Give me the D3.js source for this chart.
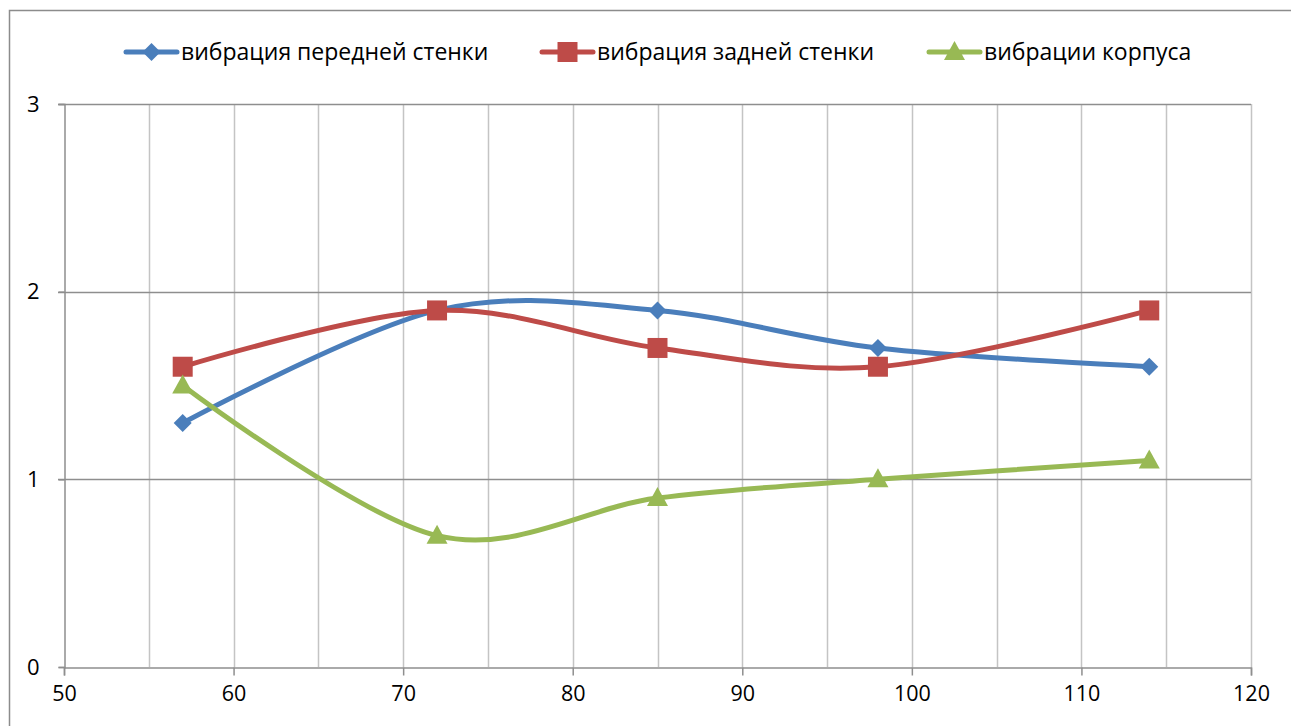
<!DOCTYPE html>
<html>
<head>
<meta charset="utf-8">
<script src="https://cdn.jsdelivr.net/npm/d3@7"></script>
<style>
  html, body { margin: 0; padding: 0; background: #fff; }
  svg { display: block; font-family: "Open Sans", "Noto Sans", sans-serif; }
</style>
</head>
<body>
<svg id="chart" width="1291" height="726"></svg>
<script>
// Frequencies (x) and vibration levels for each measured surface
const xValues = [57, 72, 85, 98, 114];
const frontWall = [1.3, 1.9, 1.9, 1.7, 1.6];
const backWall = [1.6, 1.9, 1.7, 1.6, 1.9];
const body = [1.5, 0.7, 0.9, 1.0, 1.1];

const seriesNames = ["вибрация передней стенки", "вибрация задней стенки", "вибрации корпуса"];
const xTicks = [50, 60, 70, 80, 90, 100, 110, 120];
const xMinorGrid = [55, 65, 75, 85, 95, 105, 115];
const yTicks = [0, 1, 2, 3];

const series = [
  { name: seriesNames[0], values: frontWall, color: "#4A7EBB", marker: "diamond" },
  { name: seriesNames[1], values: backWall, color: "#BE4B48", marker: "square" },
  { name: seriesNames[2], values: body, color: "#98B954", marker: "triangle" }
];

const svg = d3.select("#chart");
const plot = { left: 64, right: 1251, top: 104, bottom: 667 };

const x = d3.scaleLinear().domain([50, 120]).range([plot.left, plot.right]);
const y = d3.scaleLinear().domain([0, 3]).range([plot.bottom, plot.top]);

// Outer chart frame (extends past the visible page on right and bottom)
svg.append("rect")
  .attr("x", 9.5).attr("y", 10.5)
  .attr("width", 1400).attr("height", 900)
  .attr("fill", "none").attr("stroke", "#8c8c8c").attr("stroke-width", 1.5);

// Vertical gridlines
const vGrid = xTicks.slice(1).concat(xMinorGrid);
svg.append("g").selectAll("line").data(vGrid).join("line")
  .attr("x1", d => Math.round(x(d)) + 0.5).attr("x2", d => Math.round(x(d)) + 0.5)
  .attr("y1", plot.top).attr("y2", plot.bottom)
  .attr("stroke", "#c4c4c4").attr("stroke-width", 1.5);

// Horizontal gridlines
svg.append("g").selectAll("line").data(yTicks.slice(1)).join("line")
  .attr("x1", plot.left - 6).attr("x2", plot.right)
  .attr("y1", d => Math.round(y(d)) + 0.5).attr("y2", d => Math.round(y(d)) + 0.5)
  .attr("stroke", "#8e8e8e").attr("stroke-width", 1.5);

// Y axis
const yAxis = svg.append("g")
  .attr("transform", `translate(${plot.left + 0.5},0)`)
  .call(d3.axisLeft(y).tickValues(yTicks).tickSize(6).tickPadding(19).tickFormat(d3.format("d")));
yAxis.select(".domain").attr("stroke", "#8e8e8e").attr("stroke-width", 1.5);
yAxis.selectAll(".tick line").attr("stroke", "#8e8e8e").attr("stroke-width", 1.5);
yAxis.selectAll(".tick text").attr("font-size", 22).attr("fill", "#000")
  .attr("font-family", "'Open Sans', sans-serif");

// X axis
const xAxis = svg.append("g")
  .attr("transform", `translate(0,${plot.bottom + 0.5})`)
  .call(d3.axisBottom(x).tickValues(xTicks).tickSize(8).tickPadding(10).tickFormat(d3.format("d")));
xAxis.select(".domain").attr("stroke", "#8e8e8e").attr("stroke-width", 1.5);
xAxis.selectAll(".tick line").attr("stroke", "#8e8e8e").attr("stroke-width", 1.5);
xAxis.selectAll(".tick text").attr("font-size", 21.5).attr("fill", "#000")
  .attr("font-family", "'Open Sans', sans-serif");

// Marker shapes
function markerPath(type) {
  if (type === "diamond") return "M0,-9L9,0L0,9L-9,0Z";
  if (type === "square") return "M-10,-10H10V10H-10Z";
  return "M0,-11L10.5,8H-10.5Z";
}

const line = d3.line()
  .x((d, i) => x(xValues[i]))
  .y(d => y(d))
  .curve(d3.curveCardinal.tension(0));

const seriesG = svg.append("g").selectAll("g").data(series).join("g");

seriesG.append("path")
  .attr("d", d => line(d.values))
  .attr("fill", "none")
  .attr("stroke", d => d.color)
  .attr("stroke-width", 5)
  .attr("stroke-linejoin", "round")
  .attr("stroke-linecap", "round");

seriesG.each(function (s) {
  d3.select(this).selectAll("path.mk").data(s.values).join("path")
    .attr("class", "mk")
    .attr("transform", (d, i) => `translate(${x(xValues[i])},${y(d)})`)
    .attr("d", markerPath(s.marker))
    .attr("fill", s.color);
});

// Legend
const legendItems = [
  { x: 124, s: series[0] },
  { x: 540, s: series[1] },
  { x: 927, s: series[2] }
];
const legendY = 52;
const lg = svg.append("g").selectAll("g").data(legendItems).join("g")
  .attr("transform", d => `translate(${d.x},${legendY})`);
lg.append("line")
  .attr("x1", 2).attr("x2", 53).attr("y1", 0).attr("y2", 0)
  .attr("stroke", d => d.s.color).attr("stroke-width", 5).attr("stroke-linecap", "round");
lg.append("path")
  .attr("transform", "translate(27.5,0)")
  .attr("d", d => markerPath(d.s.marker))
  .attr("fill", d => d.s.color);
lg.append("text")
  .attr("x", 57).attr("y", 0).attr("dy", "0.35em")
  .attr("font-size", 23).attr("fill", "#000")
  .text(d => d.s.name);
</script>
</body>
</html>
